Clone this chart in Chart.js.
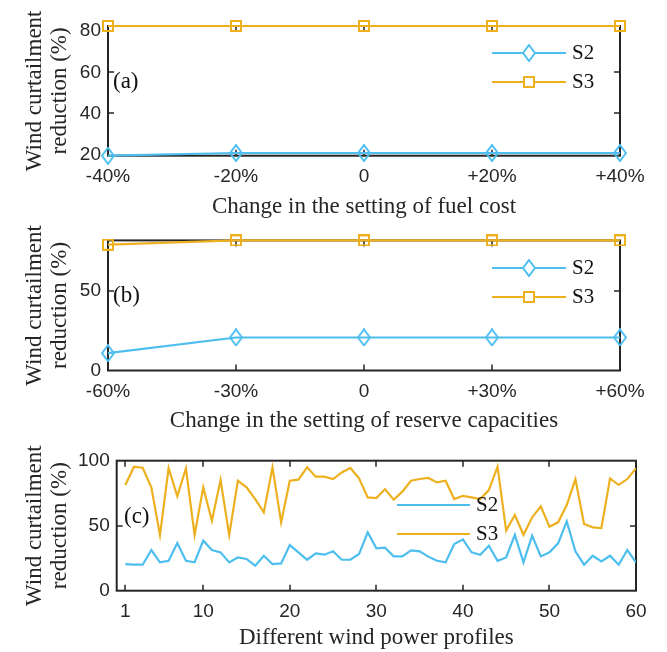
<!DOCTYPE html>
<html>
<head>
<meta charset="utf-8">
<script src="https://cdn.jsdelivr.net/npm/chart.js@4"></script>
<style>
  body { margin: 0; background: #fff; }
  #wrap { position: relative; width: 667px; height: 652px; }
  canvas { position: absolute; left: 0; }
</style>
</head>
<body>
<div id="wrap">
  <canvas id="chart-a" width="667" height="222" style="top:0"></canvas>
  <canvas id="chart-b" width="667" height="218" style="top:222px"></canvas>
  <canvas id="chart-c" width="667" height="212" style="top:440px"></canvas>
</div>
<script>
// (a) change in fuel cost
const fuelLabels = ['-40%', '-20%', '0', '+20%', '+40%'];
const fuelS2 = [19.5, 20.8, 20.8, 20.8, 20.8];
const fuelS3 = [82.5, 82.5, 82.5, 82.5, 82.5];
const fuelYTicks = [20, 40, 60, 80];

// (b) change in reserve capacities
const reserveLabels = ['-60%', '-30%', '0', '+30%', '+60%'];
const reserveS2 = [10.9, 20.8, 20.8, 20.8, 20.8];
const reserveS3 = [79.3, 82, 82, 82, 82];
const reserveYTicks = [0, 50];

// (c) different wind power profiles
const profiles = [1, 2, 3, 4, 5, 6, 7, 8, 9, 10, 11, 12, 13, 14, 15, 16, 17, 18, 19, 20,
    21, 22, 23, 24, 25, 26, 27, 28, 29, 30, 31, 32, 33, 34, 35, 36, 37, 38, 39, 40,
    41, 42, 43, 44, 45, 46, 47, 48, 49, 50, 51, 52, 53, 54, 55, 56, 57, 58, 59, 60];
const profileS2 = [20.5, 20, 20, 31.3, 21.8, 23, 36.7, 23, 21.8, 38.5,
    31.3, 29.5, 21.8, 25.6, 24.4, 19.2, 26.9, 20.5, 21, 35.1,
    29.5, 23.8, 28.7, 27.7, 30.3, 23.8, 23.8, 28.2, 44.9, 32.6,
    33.1, 26.4, 26.4, 31, 30.3, 26.2, 23, 21.8, 35.9, 39.5,
    29.5, 27.7, 34.6, 23, 25.6, 43, 21.8, 42.3, 26.4, 29.5,
    36.4, 53.3, 30.3, 20, 26.9, 22.6, 26.9, 20, 31.3, 21.8];
const profileS3 = [81.3, 95.4, 94.6, 79.5, 42.8, 94.4, 72.6, 94.1, 42.8, 79.5,
    53.8, 85.1, 42.8, 84.6, 79.5, 70.5, 60.3, 94.9, 52.6, 84.6,
    85.4, 94.9, 87.7, 87.7, 85.9, 91, 94.4, 86.4, 71.8, 71.3,
    78.2, 70, 76.2, 84.6, 85.9, 86.7, 83.3, 84.6, 70.5, 73,
    71.8, 70.5, 77.4, 95.4, 46.2, 58.2, 43, 56.4, 64.9, 49.2,
    52.6, 65.9, 85.9, 51.3, 48.7, 48.2, 86.4, 81.3, 85.9, 94.1];
const profileXTicks = [1, 10, 20, 30, 40, 50, 60];
const profileYTicks = [0, 50, 100];

const CYAN = '#4DBEEE';
const ORANGE = '#EDB120';
const INK = '#262626';
const SERIF = '"Liberation Serif", "Times New Roman", serif';
const SANS = '"Liberation Sans", Arial, sans-serif';

// hollow marker images (MATLAB style, diamond a bit taller than wide)
function diamondMarker(color) {
    const c = document.createElement('canvas');
    c.width = 14; c.height = 18;
    const g = c.getContext('2d');
    g.strokeStyle = color;
    g.lineWidth = 2;
    g.beginPath();
    g.moveTo(7, 1); g.lineTo(13, 9); g.lineTo(7, 17); g.lineTo(1, 9); g.closePath();
    g.stroke();
    return c;
}
function squareMarker(color) {
    const c = document.createElement('canvas');
    c.width = 12; c.height = 12;
    const g = c.getContext('2d');
    g.strokeStyle = color;
    g.lineWidth = 2;
    g.strokeRect(1, 1, 10, 10);
    return c;
}
const diamond = diamondMarker(CYAN);
const square = squareMarker(ORANGE);

// box around the axes plus inward tick marks on all four sides
const framePlugin = {
    id: 'frame',
    beforeDatasetsDraw(chart) {
        const { ctx, chartArea: a, scales: { x, y } } = chart;
        const tl = 6;
        ctx.save();
        ctx.strokeStyle = INK;
        ctx.lineWidth = 2;
        ctx.strokeRect(a.left, a.top, a.right - a.left, a.bottom - a.top);
        ctx.lineWidth = 1.5;
        ctx.beginPath();
        x.ticks.forEach((t, i) => {
            const p = Math.round(x.getPixelForTick(i));
            if (p <= a.left + 1 || p >= a.right - 1) return;
            ctx.moveTo(p, a.bottom); ctx.lineTo(p, a.bottom - tl);
            ctx.moveTo(p, a.top); ctx.lineTo(p, a.top + tl);
        });
        y.ticks.forEach((t, i) => {
            const p = Math.round(y.getPixelForTick(i));
            if (p <= a.top + 1 || p >= a.bottom - 1) return;
            ctx.moveTo(a.left, p); ctx.lineTo(a.left + tl, p);
            ctx.moveTo(a.right, p); ctx.lineTo(a.right - tl, p);
        });
        ctx.stroke();
        ctx.restore();
    }
};

// panel tag and the legend inside the axes
const notesPlugin = {
    id: 'notes',
    afterDraw(chart, args, opts) {
        const ctx = chart.ctx;
        ctx.save();
        ctx.fillStyle = '#111';
        ctx.textBaseline = 'middle';
        ctx.font = '23px ' + SERIF;
        ctx.fillText(opts.tag, opts.tagX, opts.tagY);
        ctx.font = '21px ' + SERIF;
        opts.items.forEach(item => {
            ctx.strokeStyle = item.color;
            ctx.lineWidth = 2.2;
            ctx.beginPath();
            ctx.moveTo(opts.x1, item.y);
            ctx.lineTo(opts.x2, item.y);
            ctx.stroke();
            if (item.marker) {
                const m = item.marker;
                ctx.fillStyle = '#fff';
                ctx.fillRect((opts.x1 + opts.x2) / 2 - m.width / 2 + 2, item.y - m.height / 2 + 2, m.width - 4, m.height - 4);
                ctx.drawImage(m, Math.round((opts.x1 + opts.x2) / 2 - m.width / 2), Math.round(item.y - m.height / 2));
            }
            ctx.fillStyle = '#111';
            ctx.fillText(item.label, opts.x2 + 6, item.y);
        });
        ctx.restore();
    }
};

function fixTicks(values) {
    return scale => { scale.ticks = values.map(v => ({ value: v })); };
}

function makePanel(id, p) {
    const ctx = document.getElementById(id).getContext('2d');
    return new Chart(ctx, {
        type: 'line',
        data: {
            labels: p.labels,
            datasets: p.datasets
        },
        options: {
            responsive: false,
            animation: false,
            devicePixelRatio: 1,
            layout: { padding: { left: 0, top: p.top, right: p.right, bottom: 0 } },
            plugins: {
                legend: { display: false },
                tooltip: { enabled: false },
                notes: p.notes
            },
            scales: {
                x: Object.assign({
                    grid: { display: false, drawTicks: false },
                    border: { display: false },
                    ticks: {
                        color: INK, padding: 10, maxRotation: 0, autoSkip: false,
                        font: { family: SANS, size: 19 }
                    },
                    title: {
                        display: true, text: p.xTitle, color: INK,
                        font: { family: SERIF, size: 23, lineHeight: 1.2 },
                        padding: { top: 0, bottom: p.xTitlePad }
                    },
                    afterFit: scale => { scale.height = p.xHeight; }
                }, p.x || {}),
                y: {
                    min: p.yMin, max: p.yMax,
                    grid: { display: false, drawTicks: false },
                    border: { display: false },
                    afterBuildTicks: fixTicks(p.yTicks),
                    ticks: { color: INK, padding: 7, font: { family: SANS, size: 19 } },
                    title: {
                        display: true, text: ['Wind curtailment', 'reduction (%)'], color: INK,
                        font: { family: SERIF, size: 23, lineHeight: 1.1 },
                        padding: { top: 22, bottom: 0 }
                    },
                    afterFit: scale => { scale.width = p.left; }
                }
            }
        },
        plugins: [framePlugin, notesPlugin]
    });
}

function markedSet(label, data, color, marker) {
    return {
        label: label, data: data, borderColor: color, borderWidth: 2.2,
        pointStyle: marker, pointRadius: 7, clip: false, tension: 0
    };
}

makePanel('chart-a', {
    labels: fuelLabels,
    datasets: [markedSet('S2', fuelS2, CYAN, diamond), markedSet('S3', fuelS3, ORANGE, square)],
    top: 26, right: 47, left: 108, xHeight: 66.3, xTitlePad: 1,
    xTitle: 'Change in the setting of fuel cost',
    yMin: 19.5, yMax: 82.5, yTicks: fuelYTicks,
    notes: {
        tag: '(a)', tagX: 113, tagY: 82, x1: 492, x2: 566,
        items: [
            { label: 'S2', color: CYAN, marker: diamond, y: 53 },
            { label: 'S3', color: ORANGE, marker: square, y: 82 }
        ]
    }
});

makePanel('chart-b', {
    labels: reserveLabels,
    datasets: [markedSet('S2', reserveS2, CYAN, diamond), markedSet('S3', reserveS3, ORANGE, square)],
    top: 18, right: 47, left: 108, xHeight: 69.5, xTitlePad: 5,
    xTitle: 'Change in the setting of reserve capacities',
    yMin: 0, yMax: 82, yTicks: reserveYTicks,
    notes: {
        tag: '(b)', tagX: 113, tagY: 74, x1: 492, x2: 566,
        items: [
            { label: 'S2', color: CYAN, marker: diamond, y: 46 },
            { label: 'S3', color: ORANGE, marker: square, y: 75 }
        ]
    }
});

makePanel('chart-c', {
    labels: profiles,
    datasets: [
        { label: 'S2', data: profiles.map((v, i) => ({ x: v, y: profileS2[i] })), borderColor: CYAN, borderWidth: 2.2, pointRadius: 0, tension: 0 },
        { label: 'S3', data: profiles.map((v, i) => ({ x: v, y: profileS3[i] })), borderColor: ORANGE, borderWidth: 2.2, pointRadius: 0, tension: 0 }
    ],
    top: 20.7, right: 31, left: 116.7, xHeight: 61.3, xTitlePad: 0,
    xTitle: 'Different wind power profiles',
    x: { type: 'linear', min: 0, max: 60, afterBuildTicks: fixTicks(profileXTicks) },
    yMin: 0, yMax: 100, yTicks: profileYTicks,
    notes: {
        tag: '(c)', tagX: 124, tagY: 77, x1: 397, x2: 470,
        items: [
            { label: 'S2', color: CYAN, y: 65 },
            { label: 'S3', color: ORANGE, y: 94 }
        ]
    }
});
</script>
</body>
</html>
